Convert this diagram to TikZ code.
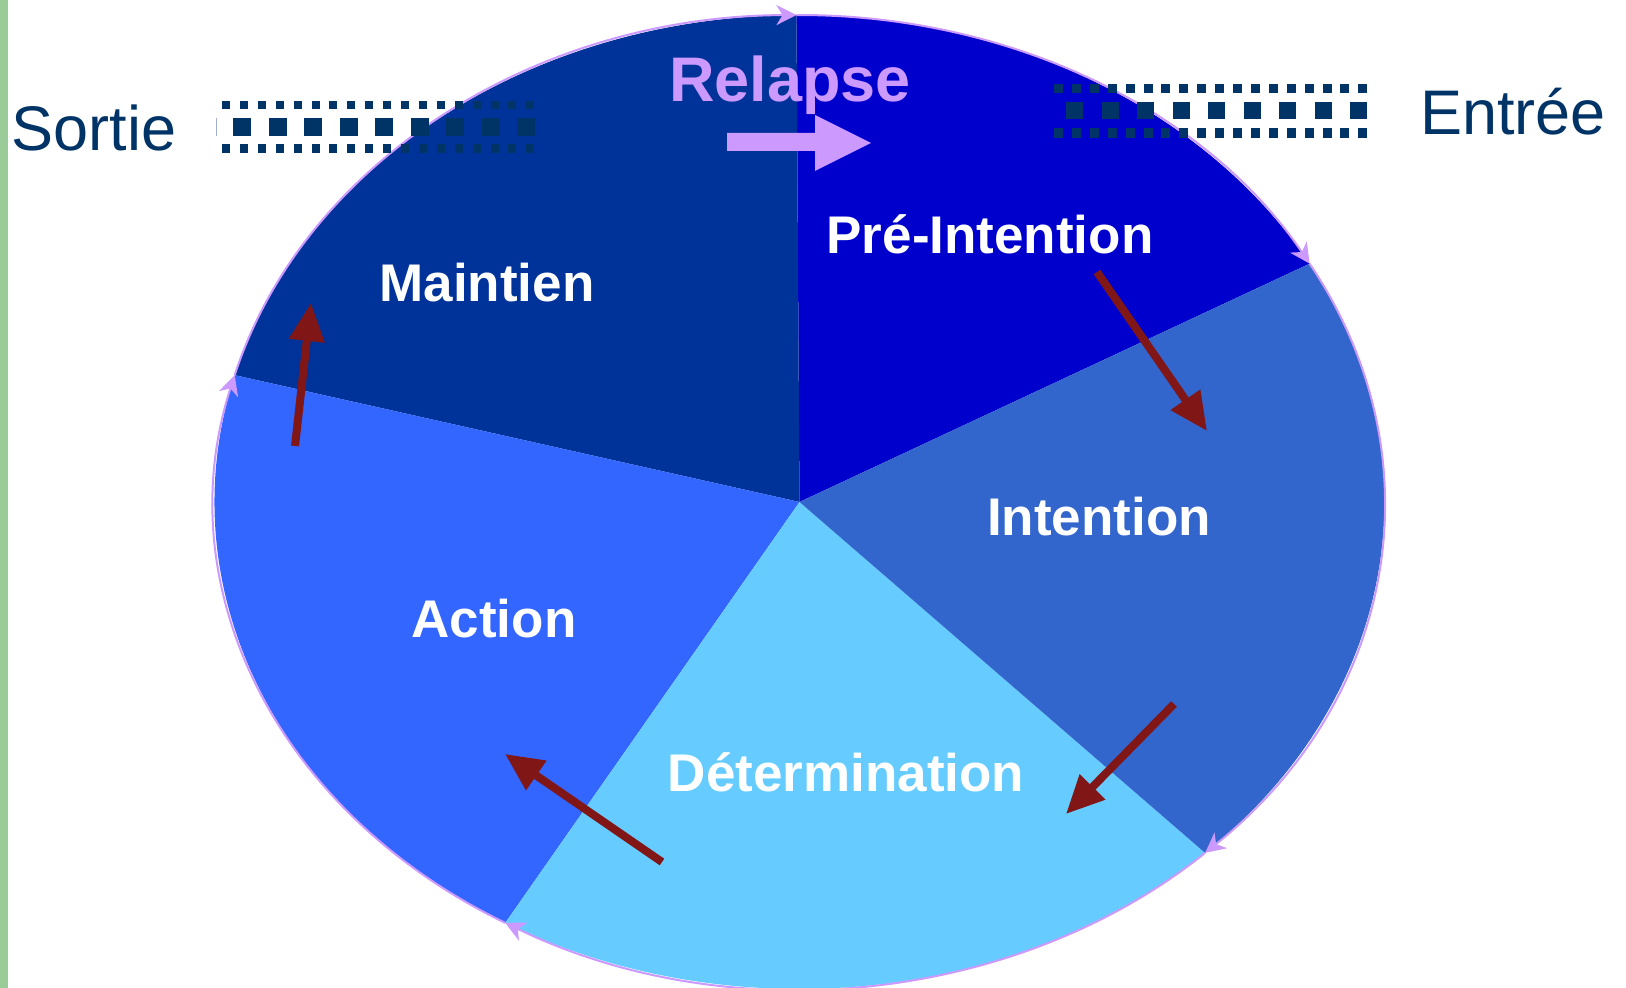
\documentclass[tikz,border=0pt]{standalone}
\usepackage{fontspec}
\setmainfont{Liberation Sans}
\usetikzlibrary{arrows.meta,calc}
\definecolor{maint}{HTML}{003399}
\definecolor{preint}{HTML}{0000CC}
\definecolor{intent}{HTML}{3366CC}
\definecolor{determ}{HTML}{66CCFF}
\definecolor{actcol}{HTML}{3366FF}
\definecolor{lilac}{HTML}{CC99FF}
\definecolor{navy}{HTML}{003366}
\definecolor{darkred}{RGB}{128,22,22}
\definecolor{greenbar}{RGB}{153,204,153}
\definecolor{faint}{RGB}{160,175,200}
\begin{document}
\begin{tikzpicture}[x=1pt,y=1pt,
  lbl/.style={text=white,font=\fontsize{53}{60}\selectfont\bfseries,anchor=base,inner sep=0pt},
  side/.style={text=navy,font=\fontsize{63}{70}\selectfont,anchor=base,inner sep=0pt},
  outl/.style={draw=lilac,line width=2pt,-{Stealth[length=20pt,width=20pt,inset=6pt]}},
  stagearrow/.style={draw=darkred,line width=8pt,-{Triangle[length=38pt,width=34pt]}},
  sq/.style={fill=navy},
  ell/.style={x radius=585pt,y radius=487pt}]
\useasboundingbox (0,0) rectangle (1626,988);
\fill[white] (0,0) rectangle (1626,988);
\fill[greenbar] (0,0) rectangle (8,988);
% pie
\coordinate (C) at (799.5,486);
\coordinate (B90) at ($(C)+(90.3:585pt and 487pt)$);
\coordinate (B29) at ($(C)+(29.3:585pt and 487pt)$);
\coordinate (Bm46) at ($(C)+(-46.1:585pt and 487pt)$);
\coordinate (Bm120) at ($(C)+(-120.2:585pt and 487pt)$);
\coordinate (B165) at ($(C)+(164.9:585pt and 487pt)$);
\fill[preint] (C) -- (B29) arc[ell,start angle=29.3,end angle=90.3] -- cycle;
\fill[maint] (C) -- (B90) arc[ell,start angle=90.3,end angle=164.9] -- cycle;
\fill[actcol] (C) -- (B165) arc[ell,start angle=164.9,end angle=239.8] -- cycle;
\fill[determ] (C) -- (Bm120) arc[ell,start angle=239.8,end angle=313.9] -- cycle;
\fill[intent] (C) -- (Bm46) arc[ell,start angle=-46.1,end angle=29.3] -- cycle;
% outline arcs with arrow tips
\draw[outl] (B165) arc[ell,start angle=164.9,end angle=90.3];
\draw[outl] (B90) arc[ell,start angle=90.3,end angle=29.3];
\draw[outl] (B29) arc[ell,start angle=29.3,end angle=-46.1];
\draw[outl] (Bm46) arc[ell,start angle=-46.1,end angle=-120.2];
\draw[outl] (Bm120) arc[ell,start angle=-120.2,end angle=-195.1];
% labels
\node[lbl] (maintien) at (487,686) {Maintien};
\node[lbl] (preintention) at (990,734) {Pré-Intention};
\node[lbl] (intention) at (1099,452) {Intention};
\node[lbl] (action) at (494,350) {Action};
\node[lbl] (determination) at (846,196) {Détermination};
\node[text=lilac,font=\fontsize{63}{70}\selectfont\bfseries,anchor=base,inner sep=0pt] (relapse) at (790,886) {Relapse};
\node[side] (sortie) at (94,837) {Sortie};
\node[side] (entree) at (1513,853) {Entrée};
% relapse block arrow
\fill[lilac] (727,837) -- (815,837) -- (815,817) -- (871,845) -- (815,873) -- (815,855) -- (727,855) -- cycle;
% stage arrows
\coordinate (a1s) at (1097,716); \coordinate (a1e) at (1207,557);
\coordinate (a2s) at (1174,284); \coordinate (a2e) at (1066,174);
\coordinate (a3s) at (662,126);  \coordinate (a3e) at (505,234);
\coordinate (a4s) at (295,542);  \coordinate (a4e) at (311,685);
\draw[stagearrow] (a1s) -- (a1e);
\draw[stagearrow] (a2s) -- (a2e);
\draw[stagearrow] (a3s) -- (a3e);
\draw[stagearrow] (a4s) -- (a4e);
% Sortie dotted band
\draw[faint,line width=1pt] (216,852) -- (216,870);
\foreach \i in {0,...,17} {
  \fill[sq] ({222+17.9*\i},879) rectangle ++(8,8);
  \fill[sq] ({222+17.9*\i},835) rectangle ++(8,9);
}
\foreach \i in {0,...,8} \fill[sq] ({233+35.5*\i},852) rectangle ++(18,18);
% Entree dotted band
\foreach \i in {0,...,17} {
  \fill[sq] ({1054+17.9*\i},895) rectangle ++(9,9);
  \fill[sq] ({1054+17.9*\i},850) rectangle ++(9,10);
}
\foreach \i in {0,...,8} \fill[sq] ({1066+35.5*\i},869) rectangle ++(17,17);
\end{tikzpicture}
\end{document}
